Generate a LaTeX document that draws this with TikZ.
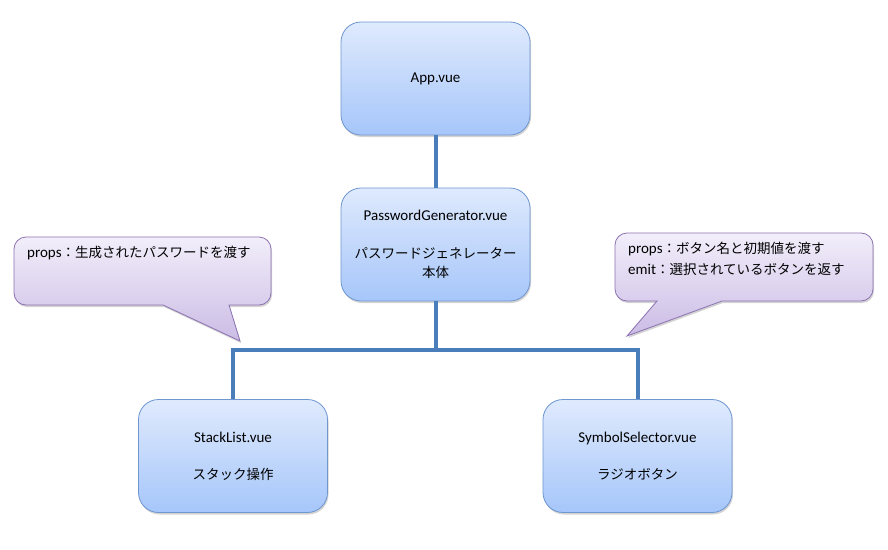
\documentclass[tikz,border=0pt]{standalone}
\usepackage{fontspec}
\setmainfont{Carlito}
\newfontfamily\jp[Scale=0.9]{Noto Sans CJK JP}
\usepackage{tikz}
\usetikzlibrary{shadows}

\definecolor{boxtop}{HTML}{DFEAFD}
\definecolor{boxbot}{HTML}{A6C6FA}
\definecolor{boxline}{HTML}{6E96CF}
\definecolor{linkblue}{HTML}{4A7EBB}
\definecolor{notetop}{HTML}{F2EEFA}
\definecolor{notebot}{HTML}{CBBCE5}
\definecolor{noteline}{HTML}{8C72B2}

\begin{document}
\begin{tikzpicture}[x=1pt,y=-1pt,
  comp/.style={draw=boxline,line width=0.8pt,rounded corners=20pt,
    top color=boxtop,bottom color=boxbot,
    drop shadow={opacity=0.35,shadow xshift=1pt,shadow yshift=-2pt},
    minimum width=189pt,minimum height=113pt,align=center,
    font=\fontsize{15}{19}\selectfont},
  note/.style={draw=noteline,line width=0.8pt,
    top color=notetop,bottom color=notebot,
    drop shadow={opacity=0.35,shadow xshift=1pt,shadow yshift=-2pt}},
  notetext/.style={anchor=north west,align=left,inner sep=0pt,
    font=\fontsize{15}{21}\selectfont},
  link/.style={draw=linkblue,line width=4pt}]
\useasboundingbox (0,0) rectangle (888,549);

% callouts
\draw[note] (14,237) [rounded corners=12pt] -- (271,237) -- (271,305)
  [sharp corners] -- (229,305) -- (240,341) -- (163,305)
  [rounded corners=12pt] -- (14,305) -- cycle;
\draw[note] (615,233) [rounded corners=12pt] -- (873,233) -- (873,301)
  [sharp corners] -- (722,301) -- (627,336) -- (657,301)
  [rounded corners=12pt] -- (615,301) -- cycle;
\node[notetext] (propsL) at (27,246) {props{\jp ：生成されたパスワードを渡す}};
\node[notetext] (propsR) at (628,242) {props{\jp ：ボタン名と初期値を渡す}\\
  emit{\jp ：選択されているボタンを返す}};

% components
\node[comp] (app) at (435.5,78.5) {App.vue};
\node[comp] (pg) at (435.5,244.5) {PasswordGenerator.vue\\[19pt]
  {\jp パスワードジェネレーター}\\{\jp 本体}};
\node[comp] (stack) at (233,456) {StackList.vue\\[18pt]{\jp スタック操作}};
\node[comp] (symbol) at (637.5,456) {SymbolSelector.vue\\[18pt]{\jp ラジオボタン}};

% connectors
\coordinate (bus) at (435.5,350);
\draw[link] (app.south) -- (pg.north);
\draw[link] (pg.south) -- (bus);
\draw[link] (bus) -| (stack.north);
\draw[link] (bus) -| (symbol.north);
\end{tikzpicture}
\end{document}
